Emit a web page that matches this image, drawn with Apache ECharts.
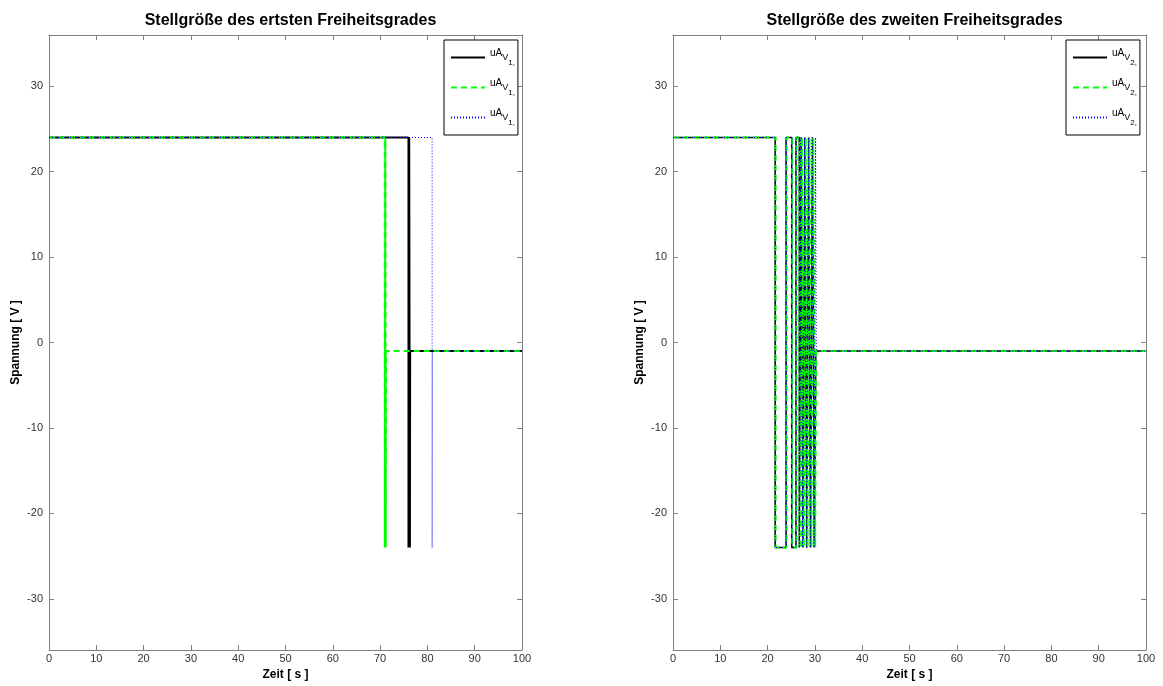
<!DOCTYPE html>
<html>
<head>
<meta charset="utf-8">
<script src="https://cdn.jsdelivr.net/npm/echarts@6/dist/echarts.min.js"></script>
<style>
html,body{margin:0;padding:0;background:#fff;}
#c{width:1163px;height:686px;}
</style>
</head>
<body>
<div id="c"></div>
<script>
// ---- data ----
var titles = ['Stellgröße des ertsten Freiheitsgrades', 'Stellgröße des zweiten Freiheitsgrades'];
var xTicks = [0, 10, 20, 30, 40, 50, 60, 70, 80, 90, 100];
var yTicks = [-30, -20, -10, 0, 10, 20, 30];
var startLevel = 24;      // initial saturated voltage
var swingLevel = 24;      // +/- saturation
var finalLevel = -1;      // settled value
var tMax = 100;

// plot 1: switching instants, then time at which the value settles to finalLevel
var p1BlackSwitch = [76.0, 76.15, 76.3];
var p1BlackEnd = 76.35;
var p1GreenSwitch = [71.0, 71.1, 71.2];
var p1GreenEnd = 71.25;
var p1BlueSwitch = [81.0];
var p1BlueEnd = 81.05;

// plot 2
var p2BlackSwitch = [21.6, 23.9, 25.1, 26.0, 26.7, 27.1, 27.5, 27.9, 28.3, 28.7, 29.1, 29.5, 29.9];
var p2BlackEnd = 30.2;
var p2GreenSwitch = [21.7, 24.0, 25.2, 26.1, 26.8, 27.25, 27.65, 28.05, 28.45, 28.85, 29.25, 29.65, 30.05];
var p2GreenEnd = 30.25;
var p2BlueSwitch = [21.65, 23.95, 25.15, 26.05, 26.75, 27.0, 27.4, 27.8, 28.2, 28.6, 29.0, 29.4, 29.8, 30.15];
var p2BlueEnd = 30.3;

var legendSubs = ['1,', '2,'];

// ---- build step sequences ----
function steps(sw, tEnd) {
  var cur = startLevel, pts = [[0, cur]];
  for (var i = 0; i < sw.length; i++) {
    pts.push([sw[i], cur]);
    cur = (cur > 0) ? -swingLevel : swingLevel;
    pts.push([sw[i], cur]);
  }
  pts.push([tEnd, cur]);
  pts.push([tEnd, finalLevel]);
  pts.push([tMax, finalLevel]);
  return pts;
}

var font = '"Liberation Sans", Arial, sans-serif';
var axisGray = '#808080';
var grids = [
  {left: 49, top: 35, width: 473, height: 615},
  {left: 673, top: 35, width: 473, height: 615}
];

var xAxes = [], yAxes = [];
for (var g = 0; g < 2; g++) {
  xAxes.push({
    type: 'value', gridIndex: g, min: 0, max: 100, interval: 10, position: 'bottom',
    name: 'Zeit [ s ]', nameLocation: 'middle', nameGap: 17,
    nameTextStyle: {fontFamily: font, fontWeight: 'bold', fontSize: 12, color: '#000'},
    axisLine: {show: true, onZero: false, lineStyle: {color: axisGray, width: 1}},
    axisTick: {show: true, inside: true, length: 5, lineStyle: {color: axisGray}},
    axisLabel: {show: true, margin: 3, fontFamily: font, fontSize: 11, color: '#333'},
    splitLine: {show: false}
  });
  xAxes.push({
    type: 'value', gridIndex: g, min: 0, max: 100, interval: 10, position: 'top',
    axisLine: {show: true, onZero: false, lineStyle: {color: axisGray, width: 1}},
    axisTick: {show: true, inside: true, length: 5, lineStyle: {color: axisGray}},
    axisLabel: {show: false}, splitLine: {show: false}
  });
  yAxes.push({
    type: 'value', gridIndex: g, min: -36, max: 36, position: 'left',
    name: 'Spannung [ V ]', nameLocation: 'middle', nameGap: 27,
    nameTextStyle: {fontFamily: font, fontWeight: 'bold', fontSize: 12, color: '#000'},
    axisLine: {show: true, onZero: false, lineStyle: {color: axisGray, width: 1}},
    axisTick: {show: true, inside: true, length: 5, customValues: yTicks, lineStyle: {color: axisGray}},
    axisLabel: {show: true, margin: 6, customValues: yTicks, fontFamily: font, fontSize: 11, color: '#333'},
    splitLine: {show: false}
  });
  yAxes.push({
    type: 'value', gridIndex: g, min: -36, max: 36, position: 'right',
    axisLine: {show: true, onZero: false, lineStyle: {color: axisGray, width: 1}},
    axisTick: {show: true, inside: true, length: 5, customValues: yTicks, lineStyle: {color: axisGray}},
    axisLabel: {show: false}, splitLine: {show: false}
  });
}

var styles = [
  {color: '#000000', type: 'solid', width: 2},
  {color: '#00ff00', type: [6, 4], width: 2},
  {color: '#0000ff', type: [1, 2], width: 1}
];
var plotData = [
  [steps(p1BlackSwitch, p1BlackEnd), steps(p1GreenSwitch, p1GreenEnd), steps(p1BlueSwitch, p1BlueEnd)],
  [steps(p2BlackSwitch, p2BlackEnd), steps(p2GreenSwitch, p2GreenEnd), steps(p2BlueSwitch, p2BlueEnd)]
];
var series = [], legendNames = [[], []], subMap = {};
for (var p = 0; p < 2; p++) {
  for (var s = 0; s < 3; s++) {
    var nm = 'uA_V' + (p + 1) + '_' + (s + 1);
    legendNames[p].push(nm);
    subMap[nm] = legendSubs[p];
    series.push({
      name: nm, type: 'line', xAxisIndex: p * 2, yAxisIndex: p * 2,
      data: plotData[p][s], showSymbol: false, symbol: 'none', animation: false,
      color: styles[s].color,
      lineStyle: {color: styles[s].color, type: styles[s].type, width: (p === 1 && s === 0) ? 1.5 : styles[s].width},
      itemStyle: {color: styles[s].color}
    });
  }
}

function legendCfg(p, left) {
  return {
    data: legendNames[p], orient: 'vertical', left: left, top: 40,
    backgroundColor: '#fff', borderColor: '#000', borderWidth: 1, borderRadius: 0,
    padding: [8, 3, 8, 6], itemWidth: 34, itemHeight: 16, itemGap: 11,
    selectedMode: false,
    itemStyle: {opacity: 0, borderWidth: 0},
    formatter: function (n) { return '{a|uA}{b|V}{c|' + subMap[n] + '}'; },
    textStyle: {
      fontFamily: font, color: '#000',
      rich: {
        a: {fontSize: 10, fontFamily: font, verticalAlign: 'top', padding: [0, 0, 0, 0]},
        b: {fontSize: 9, fontFamily: font, verticalAlign: 'top', padding: [5, 0, 0, 0]},
        c: {fontSize: 8, fontFamily: font, verticalAlign: 'top', padding: [11, 0, 0, 0]}
      }
    }
  };
}

var chart = echarts.init(document.getElementById('c'), null, {renderer: 'canvas'});
chart.setOption({
  backgroundColor: '#fff',
  animation: false,
  title: [
    {text: titles[0], left: 285.5, top: 8, textAlign: 'center',
     textStyle: {fontFamily: font, fontWeight: 'bold', fontSize: 16, color: '#000'}},
    {text: titles[1], left: 909.5, top: 8, textAlign: 'center',
     textStyle: {fontFamily: font, fontWeight: 'bold', fontSize: 16, color: '#000'}}
  ],
  legend: [legendCfg(0, 444), legendCfg(1, 1066)],
  grid: grids,
  xAxis: xAxes,
  yAxis: yAxes,
  series: series
});
</script>
</body>
</html>
